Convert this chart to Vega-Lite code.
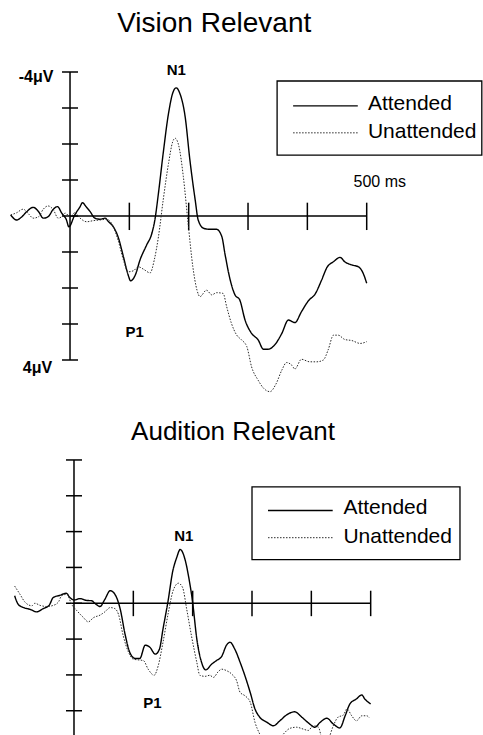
{
  "$schema": "https://vega.github.io/schema/vega-lite/v6.json",
  "padding": 0,
  "spacing": 0,
  "background": "white",
  "config": {"view": {"stroke": null}, "text": {"font": "Liberation Sans", "color": "black"}},
  "datasets": {
    "vision": [
      {"cond":"Attended","t":-100,"v":-0.03},{"cond":"Attended","t":-90,"v":0.11},{"cond":"Attended","t":-81,"v":0.02},{"cond":"Attended","t":-73,"v":-0.12},{"cond":"Attended","t":-62,"v":-0.24},{"cond":"Attended","t":-53,"v":-0.12},{"cond":"Attended","t":-45,"v":0.06},{"cond":"Attended","t":-37,"v":0.02},{"cond":"Attended","t":-28,"v":-0.19},{"cond":"Attended","t":-21,"v":-0.26},{"cond":"Attended","t":-14,"v":-0.08},{"cond":"Attended","t":-6,"v":0.11},{"cond":"Attended","t":-2,"v":0.3},{"cond":"Attended","t":8,"v":-0.03},{"cond":"Attended","t":17,"v":-0.26},{"cond":"Attended","t":21,"v":-0.37},{"cond":"Attended","t":27,"v":-0.26},{"cond":"Attended","t":34,"v":-0.12},{"cond":"Attended","t":42,"v":0.06},{"cond":"Attended","t":51,"v":0.09},{"cond":"Attended","t":59,"v":0.06},{"cond":"Attended","t":65,"v":0.16},{"cond":"Attended","t":73,"v":0.3},{"cond":"Attended","t":81,"v":0.58},{"cond":"Attended","t":90,"v":1.13},{"cond":"Attended","t":98,"v":1.64},{"cond":"Attended","t":102,"v":1.8},{"cond":"Attended","t":110,"v":1.64},{"cond":"Attended","t":118,"v":1.22},{"cond":"Attended","t":129,"v":0.81},{"cond":"Attended","t":138,"v":0.48},{"cond":"Attended","t":143,"v":0.11},{"cond":"Attended","t":149,"v":-0.63},{"cond":"Attended","t":157,"v":-1.74},{"cond":"Attended","t":166,"v":-2.85},{"cond":"Attended","t":173,"v":-3.41},{"cond":"Attended","t":179,"v":-3.56},{"cond":"Attended","t":185,"v":-3.41},{"cond":"Attended","t":194,"v":-2.76},{"cond":"Attended","t":202,"v":-1.56},{"cond":"Attended","t":211,"v":-0.44},{"cond":"Attended","t":216,"v":0.11},{"cond":"Attended","t":225,"v":0.34},{"cond":"Attended","t":236,"v":0.37},{"cond":"Attended","t":247,"v":0.37},{"cond":"Attended","t":256,"v":0.58},{"cond":"Attended","t":261,"v":1.04},{"cond":"Attended","t":270,"v":1.78},{"cond":"Attended","t":278,"v":2.19},{"cond":"Attended","t":286,"v":2.33},{"cond":"Attended","t":295,"v":2.89},{"cond":"Attended","t":306,"v":3.26},{"cond":"Attended","t":317,"v":3.44},{"cond":"Attended","t":326,"v":3.7},{"cond":"Attended","t":334,"v":3.7},{"cond":"Attended","t":345,"v":3.58},{"cond":"Attended","t":357,"v":3.26},{"cond":"Attended","t":368,"v":2.89},{"cond":"Attended","t":379,"v":2.96},{"cond":"Attended","t":390,"v":2.66},{"cond":"Attended","t":402,"v":2.35},{"cond":"Attended","t":413,"v":2.17},{"cond":"Attended","t":424,"v":1.78},{"cond":"Attended","t":433,"v":1.43},{"cond":"Attended","t":444,"v":1.27},{"cond":"Attended","t":455,"v":1.15},{"cond":"Attended","t":463,"v":1.27},{"cond":"Attended","t":475,"v":1.36},{"cond":"Attended","t":486,"v":1.41},{"cond":"Attended","t":494,"v":1.59},{"cond":"Attended","t":500,"v":1.87},
      {"cond":"Unattended","t":-100,"v":-0.03},{"cond":"Unattended","t":-90,"v":-0.09},{"cond":"Unattended","t":-79,"v":-0.19},{"cond":"Unattended","t":-70,"v":-0.06},{"cond":"Unattended","t":-62,"v":0.06},{"cond":"Unattended","t":-53,"v":0.02},{"cond":"Unattended","t":-45,"v":-0.19},{"cond":"Unattended","t":-37,"v":-0.28},{"cond":"Unattended","t":-28,"v":-0.17},{"cond":"Unattended","t":-20,"v":0.06},{"cond":"Unattended","t":-14,"v":0.02},{"cond":"Unattended","t":-8,"v":-0.08},{"cond":"Unattended","t":0,"v":0.02},{"cond":"Unattended","t":8,"v":-0.09},{"cond":"Unattended","t":17,"v":0.06},{"cond":"Unattended","t":28,"v":0.16},{"cond":"Unattended","t":39,"v":0.13},{"cond":"Unattended","t":51,"v":0.11},{"cond":"Unattended","t":62,"v":0.09},{"cond":"Unattended","t":73,"v":0.3},{"cond":"Unattended","t":81,"v":0.67},{"cond":"Unattended","t":90,"v":1.22},{"cond":"Unattended","t":98,"v":1.55},{"cond":"Unattended","t":107,"v":1.52},{"cond":"Unattended","t":115,"v":1.41},{"cond":"Unattended","t":124,"v":1.48},{"cond":"Unattended","t":135,"v":1.58},{"cond":"Unattended","t":142,"v":1.22},{"cond":"Unattended","t":149,"v":0.58},{"cond":"Unattended","t":157,"v":-0.44},{"cond":"Unattended","t":166,"v":-1.46},{"cond":"Unattended","t":173,"v":-2.06},{"cond":"Unattended","t":177,"v":-2.16},{"cond":"Unattended","t":183,"v":-1.97},{"cond":"Unattended","t":191,"v":-1.09},{"cond":"Unattended","t":199,"v":0.2},{"cond":"Unattended","t":207,"v":1.41},{"cond":"Unattended","t":214,"v":2.06},{"cond":"Unattended","t":219,"v":2.24},{"cond":"Unattended","t":230,"v":2.06},{"cond":"Unattended","t":239,"v":2.19},{"cond":"Unattended","t":247,"v":2.13},{"cond":"Unattended","t":258,"v":2.15},{"cond":"Unattended","t":264,"v":2.52},{"cond":"Unattended","t":272,"v":2.98},{"cond":"Unattended","t":281,"v":3.31},{"cond":"Unattended","t":289,"v":3.44},{"cond":"Unattended","t":298,"v":3.63},{"cond":"Unattended","t":306,"v":4.19},{"cond":"Unattended","t":317,"v":4.56},{"cond":"Unattended","t":326,"v":4.78},{"cond":"Unattended","t":337,"v":4.88},{"cond":"Unattended","t":347,"v":4.67},{"cond":"Unattended","t":357,"v":4.28},{"cond":"Unattended","t":365,"v":4.07},{"cond":"Unattended","t":374,"v":4.15},{"cond":"Unattended","t":379,"v":4.25},{"cond":"Unattended","t":390,"v":3.98},{"cond":"Unattended","t":404,"v":4.05},{"cond":"Unattended","t":416,"v":4.05},{"cond":"Unattended","t":427,"v":4.0},{"cond":"Unattended","t":435,"v":3.72},{"cond":"Unattended","t":444,"v":3.31},{"cond":"Unattended","t":452,"v":3.31},{"cond":"Unattended","t":463,"v":3.43},{"cond":"Unattended","t":475,"v":3.46},{"cond":"Unattended","t":489,"v":3.54},{"cond":"Unattended","t":500,"v":3.49}
    ],
    "audition": [
      {"cond":"Attended","t":-100,"v":-0.21},{"cond":"Attended","t":-94,"v":0.03},{"cond":"Attended","t":-85,"v":0.12},{"cond":"Attended","t":-74,"v":0.17},{"cond":"Attended","t":-63,"v":0.24},{"cond":"Attended","t":-52,"v":0.15},{"cond":"Attended","t":-42,"v":0.06},{"cond":"Attended","t":-35,"v":-0.16},{"cond":"Attended","t":-24,"v":-0.22},{"cond":"Attended","t":-13,"v":-0.28},{"cond":"Attended","t":-7,"v":-0.16},{"cond":"Attended","t":0,"v":-0.09},{"cond":"Attended","t":10,"v":-0.13},{"cond":"Attended","t":21,"v":-0.08},{"cond":"Attended","t":30,"v":-0.07},{"cond":"Attended","t":35,"v":0.0},{"cond":"Attended","t":44,"v":0.09},{"cond":"Attended","t":52,"v":-0.11},{"cond":"Attended","t":61,"v":-0.35},{"cond":"Attended","t":69,"v":-0.25},{"cond":"Attended","t":78,"v":0.17},{"cond":"Attended","t":86,"v":0.86},{"cond":"Attended","t":94,"v":1.37},{"cond":"Attended","t":103,"v":1.54},{"cond":"Attended","t":111,"v":1.54},{"cond":"Attended","t":120,"v":1.17},{"cond":"Attended","t":128,"v":1.23},{"cond":"Attended","t":137,"v":1.42},{"cond":"Attended","t":144,"v":1.28},{"cond":"Attended","t":150,"v":0.72},{"cond":"Attended","t":159,"v":-0.11},{"cond":"Attended","t":166,"v":-0.86},{"cond":"Attended","t":173,"v":-1.27},{"cond":"Attended","t":179,"v":-1.5},{"cond":"Attended","t":187,"v":-1.23},{"cond":"Attended","t":193,"v":-0.76},{"cond":"Attended","t":200,"v":-0.02},{"cond":"Attended","t":207,"v":1.0},{"cond":"Attended","t":215,"v":1.65},{"cond":"Attended","t":222,"v":1.86},{"cond":"Attended","t":232,"v":1.7},{"cond":"Attended","t":240,"v":1.6},{"cond":"Attended","t":249,"v":1.48},{"cond":"Attended","t":257,"v":1.17},{"cond":"Attended","t":263,"v":1.09},{"cond":"Attended","t":271,"v":1.28},{"cond":"Attended","t":280,"v":1.65},{"cond":"Attended","t":288,"v":2.02},{"cond":"Attended","t":297,"v":2.49},{"cond":"Attended","t":305,"v":2.95},{"cond":"Attended","t":313,"v":3.18},{"cond":"Attended","t":325,"v":3.32},{"cond":"Attended","t":336,"v":3.42},{"cond":"Attended","t":347,"v":3.28},{"cond":"Attended","t":358,"v":3.12},{"cond":"Attended","t":372,"v":3.03},{"cond":"Attended","t":384,"v":3.18},{"cond":"Attended","t":395,"v":3.34},{"cond":"Attended","t":406,"v":3.46},{"cond":"Attended","t":415,"v":3.32},{"cond":"Attended","t":426,"v":3.21},{"cond":"Attended","t":437,"v":3.37},{"cond":"Attended","t":448,"v":3.48},{"cond":"Attended","t":457,"v":3.14},{"cond":"Attended","t":465,"v":2.81},{"cond":"Attended","t":476,"v":2.67},{"cond":"Attended","t":485,"v":2.56},{"cond":"Attended","t":490,"v":2.67},{"cond":"Attended","t":500,"v":2.81},
      {"cond":"Unattended","t":-100,"v":-0.48},{"cond":"Unattended","t":-91,"v":-0.25},{"cond":"Unattended","t":-83,"v":-0.04},{"cond":"Unattended","t":-71,"v":0.07},{"cond":"Unattended","t":-66,"v":0.0},{"cond":"Unattended","t":-57,"v":0.06},{"cond":"Unattended","t":-46,"v":0.09},{"cond":"Unattended","t":-35,"v":0.06},{"cond":"Unattended","t":-26,"v":-0.04},{"cond":"Unattended","t":-21,"v":-0.21},{"cond":"Unattended","t":-12,"v":-0.25},{"cond":"Unattended","t":-4,"v":0.03},{"cond":"Unattended","t":5,"v":0.21},{"cond":"Unattended","t":16,"v":0.4},{"cond":"Unattended","t":24,"v":0.52},{"cond":"Unattended","t":33,"v":0.4},{"cond":"Unattended","t":44,"v":0.33},{"cond":"Unattended","t":52,"v":0.24},{"cond":"Unattended","t":61,"v":0.12},{"cond":"Unattended","t":69,"v":0.15},{"cond":"Unattended","t":75,"v":0.31},{"cond":"Unattended","t":83,"v":0.91},{"cond":"Unattended","t":92,"v":1.37},{"cond":"Unattended","t":100,"v":1.56},{"cond":"Unattended","t":108,"v":1.58},{"cond":"Unattended","t":117,"v":1.6},{"cond":"Unattended","t":125,"v":1.84},{"cond":"Unattended","t":135,"v":2.01},{"cond":"Unattended","t":142,"v":1.74},{"cond":"Unattended","t":150,"v":1.09},{"cond":"Unattended","t":159,"v":0.26},{"cond":"Unattended","t":167,"v":-0.35},{"cond":"Unattended","t":176,"v":-0.56},{"cond":"Unattended","t":183,"v":-0.44},{"cond":"Unattended","t":190,"v":0.17},{"cond":"Unattended","t":198,"v":0.91},{"cond":"Unattended","t":207,"v":1.65},{"cond":"Unattended","t":212,"v":2.01},{"cond":"Unattended","t":221,"v":2.04},{"cond":"Unattended","t":229,"v":2.01},{"cond":"Unattended","t":235,"v":2.07},{"cond":"Unattended","t":243,"v":1.91},{"cond":"Unattended","t":249,"v":1.84},{"cond":"Unattended","t":257,"v":1.88},{"cond":"Unattended","t":266,"v":1.98},{"cond":"Unattended","t":274,"v":2.16},{"cond":"Unattended","t":280,"v":2.49},{"cond":"Unattended","t":288,"v":2.58},{"cond":"Unattended","t":297,"v":2.76},{"cond":"Unattended","t":305,"v":3.32},{"cond":"Unattended","t":313,"v":3.65},{"cond":"Unattended","t":325,"v":3.93},{"cond":"Unattended","t":336,"v":3.97},{"cond":"Unattended","t":344,"v":3.83},{"cond":"Unattended","t":353,"v":3.65},{"cond":"Unattended","t":364,"v":3.49},{"cond":"Unattended","t":375,"v":3.46},{"cond":"Unattended","t":386,"v":3.51},{"cond":"Unattended","t":395,"v":3.55},{"cond":"Unattended","t":403,"v":3.42},{"cond":"Unattended","t":412,"v":3.46},{"cond":"Unattended","t":417,"v":3.74},{"cond":"Unattended","t":423,"v":3.97},{"cond":"Unattended","t":429,"v":3.79},{"cond":"Unattended","t":437,"v":3.42},{"cond":"Unattended","t":445,"v":3.18},{"cond":"Unattended","t":454,"v":3.12},{"cond":"Unattended","t":460,"v":2.95},{"cond":"Unattended","t":468,"v":3.14},{"cond":"Unattended","t":476,"v":3.28},{"cond":"Unattended","t":485,"v":3.14},{"cond":"Unattended","t":493,"v":3.14},{"cond":"Unattended","t":498,"v":3.2}
    ],
    "yticks": [{"v":-4},{"v":-3},{"v":-2},{"v":-1},{"v":0},{"v":1},{"v":2},{"v":3},{"v":4}],
    "xticks": [{"t":100},{"t":200},{"t":300},{"t":400},{"t":500}],
    "one": [{}]
  },
  "vconcat": [
    {
      "width": 483,
      "height": 380,
      "layer": [
        {"data": {"name": "one"}, "mark": {"type": "rule", "color": "black", "strokeWidth": 1.5},
         "encoding": {"x": {"datum": 0, "type": "quantitative", "scale": {"domain": [-118, 696], "nice": false, "zero": false}, "axis": null},
                      "y": {"datum": -4, "type": "quantitative", "scale": {"domain": [-6, 4.5556], "nice": false, "zero": false, "reverse": true}, "axis": null},
                      "y2": {"datum": 4}}},
        {"data": {"name": "yticks"}, "mark": {"type": "rule", "color": "black", "strokeWidth": 1.5},
         "encoding": {"x": {"datum": -13.5, "type": "quantitative", "scale": {"domain": [-118, 696], "nice": false, "zero": false}, "axis": null},
                      "x2": {"datum": 13.5},
                      "y": {"field": "v", "type": "quantitative", "scale": {"domain": [-6, 4.5556], "nice": false, "zero": false, "reverse": true}, "axis": null}}},
        {"data": {"name": "one"}, "mark": {"type": "rule", "color": "black", "strokeWidth": 1.5},
         "encoding": {"x": {"datum": 0, "type": "quantitative", "scale": {"domain": [-118, 696], "nice": false, "zero": false}, "axis": null},
                      "x2": {"datum": 500},
                      "y": {"datum": 0, "type": "quantitative", "scale": {"domain": [-6, 4.5556], "nice": false, "zero": false, "reverse": true}, "axis": null}}},
        {"data": {"name": "xticks"}, "mark": {"type": "rule", "color": "black", "strokeWidth": 1.5},
         "encoding": {"x": {"field": "t", "type": "quantitative", "scale": {"domain": [-118, 696], "nice": false, "zero": false}, "axis": null},
                      "y": {"datum": -0.37, "type": "quantitative", "scale": {"domain": [-6, 4.5556], "nice": false, "zero": false, "reverse": true}, "axis": null},
                      "y2": {"datum": 0.39}}},
        {"data": {"name": "vision"}, "mark": {"type": "line", "strokeJoin": "round", "interpolate": "monotone"},
         "encoding": {"x": {"field": "t", "type": "quantitative", "scale": {"domain": [-118, 696], "nice": false, "zero": false}, "axis": null},
                      "y": {"field": "v", "type": "quantitative", "scale": {"domain": [-6, 4.5556], "nice": false, "zero": false, "reverse": true}, "axis": null},
                      "strokeDash": {"field": "cond", "type": "nominal", "scale": {"domain": ["Attended", "Unattended"], "range": [[1, 0], [1.5, 1.5]]}, "legend": null},
                      "color": {"field": "cond", "type": "nominal", "scale": {"domain": ["Attended", "Unattended"], "range": ["#000000", "#2a2a2a"]}, "legend": null},
                      "strokeWidth": {"field": "cond", "type": "nominal", "scale": {"domain": ["Attended", "Unattended"], "range": [1.4, 1.0]}, "legend": null}}},
        {"data": {"name": "one"}, "mark": {"type": "rect", "fill": null, "fillOpacity": 0, "stroke": "black", "strokeWidth": 1.3},
         "encoding": {"x": {"datum": 349, "type": "quantitative", "scale": {"domain": [-118, 696], "nice": false, "zero": false}, "axis": null},
                      "x2": {"datum": 694},
                      "y": {"datum": -3.75, "type": "quantitative", "scale": {"domain": [-6, 4.5556], "nice": false, "zero": false, "reverse": true}, "axis": null},
                      "y2": {"datum": -1.69}}},
        {"data": {"values": [{"cond": "Attended"}]}, "mark": {"type": "rule"},
         "encoding": {"x": {"datum": 376, "type": "quantitative", "scale": {"domain": [-118, 696], "nice": false, "zero": false}, "axis": null},
                      "x2": {"datum": 485},
                      "y": {"datum": -3.06, "type": "quantitative", "scale": {"domain": [-6, 4.5556], "nice": false, "zero": false, "reverse": true}, "axis": null},
                      "strokeDash": {"field": "cond", "type": "nominal", "legend": null},
                      "color": {"field": "cond", "type": "nominal", "legend": null},
                      "strokeWidth": {"field": "cond", "type": "nominal", "legend": null}}},
        {"data": {"values": [{"cond": "Unattended"}]}, "mark": {"type": "rule"},
         "encoding": {"x": {"datum": 376, "type": "quantitative", "scale": {"domain": [-118, 696], "nice": false, "zero": false}, "axis": null},
                      "x2": {"datum": 485},
                      "y": {"datum": -2.31, "type": "quantitative", "scale": {"domain": [-6, 4.5556], "nice": false, "zero": false, "reverse": true}, "axis": null},
                      "strokeDash": {"field": "cond", "type": "nominal", "legend": null},
                      "color": {"field": "cond", "type": "nominal", "legend": null},
                      "strokeWidth": {"field": "cond", "type": "nominal", "legend": null}}},
        {"data": {"values": [{"cond": "Attended"}]}, "mark": {"type": "text", "align": "left", "baseline": "alphabetic", "fontSize": 21},
         "encoding": {"x": {"datum": 502, "type": "quantitative", "scale": {"domain": [-118, 696], "nice": false, "zero": false}, "axis": null},
                      "y": {"datum": -2.94, "type": "quantitative", "scale": {"domain": [-6, 4.5556], "nice": false, "zero": false, "reverse": true}, "axis": null},
                      "text": {"field": "cond"}}},
        {"data": {"values": [{"cond": "Unattended"}]}, "mark": {"type": "text", "align": "left", "baseline": "alphabetic", "fontSize": 21},
         "encoding": {"x": {"datum": 502, "type": "quantitative", "scale": {"domain": [-118, 696], "nice": false, "zero": false}, "axis": null},
                      "y": {"datum": -2.16, "type": "quantitative", "scale": {"domain": [-6, 4.5556], "nice": false, "zero": false, "reverse": true}, "axis": null},
                      "text": {"field": "cond"}}},
        {"data": {"values": [{"label": "Vision Relevant", "t": 243, "v": -5.11}]}, "mark": {"type": "text", "align": "center", "baseline": "alphabetic", "fontSize": 28},
         "encoding": {"x": {"field": "t", "type": "quantitative", "scale": {"domain": [-118, 696], "nice": false, "zero": false}, "axis": null},
                      "y": {"field": "v", "type": "quantitative", "scale": {"domain": [-6, 4.5556], "nice": false, "zero": false, "reverse": true}, "axis": null},
                      "text": {"field": "label"}}},
        {"data": {"values": [{"label": "N1", "t": 179, "v": -3.92}, {"label": "P1", "t": 109, "v": 3.35}]}, "mark": {"type": "text", "align": "center", "baseline": "alphabetic", "fontSize": 15, "fontWeight": "bold"},
         "encoding": {"x": {"field": "t", "type": "quantitative", "scale": {"domain": [-118, 696], "nice": false, "zero": false}, "axis": null},
                      "y": {"field": "v", "type": "quantitative", "scale": {"domain": [-6, 4.5556], "nice": false, "zero": false, "reverse": true}, "axis": null},
                      "text": {"field": "label"}}},
        {"data": {"values": [{"label": "-4μV", "t": -28, "v": -3.73}, {"label": "4μV", "t": -30, "v": 4.37}]}, "mark": {"type": "text", "align": "right", "baseline": "alphabetic", "fontSize": 16, "fontWeight": "bold"},
         "encoding": {"x": {"field": "t", "type": "quantitative", "scale": {"domain": [-118, 696], "nice": false, "zero": false}, "axis": null},
                      "y": {"field": "v", "type": "quantitative", "scale": {"domain": [-6, 4.5556], "nice": false, "zero": false, "reverse": true}, "axis": null},
                      "text": {"field": "label"}}},
        {"data": {"values": [{"label": "500 ms", "t": 522, "v": -0.81}]}, "mark": {"type": "text", "align": "center", "baseline": "alphabetic", "fontSize": 16},
         "encoding": {"x": {"field": "t", "type": "quantitative", "scale": {"domain": [-118, 696], "nice": false, "zero": false}, "axis": null},
                      "y": {"field": "v", "type": "quantitative", "scale": {"domain": [-6, 4.5556], "nice": false, "zero": false, "reverse": true}, "axis": null},
                      "text": {"field": "label"}}}
      ]
    },
    {
      "width": 483,
      "height": 355,
      "layer": [
        {"data": {"name": "one"}, "mark": {"type": "rule", "color": "black", "strokeWidth": 1.5},
         "encoding": {"x": {"datum": 0, "type": "quantitative", "scale": {"domain": [-124.7, 689.3], "nice": false, "zero": false}, "axis": null},
                      "y": {"datum": -4, "type": "quantitative", "scale": {"domain": [-5.869, 4.04], "nice": false, "zero": false, "reverse": true}, "axis": null},
                      "y2": {"datum": 4}}},
        {"data": {"name": "yticks"}, "mark": {"type": "rule", "color": "black", "strokeWidth": 1.5},
         "encoding": {"x": {"datum": -13.5, "type": "quantitative", "scale": {"domain": [-124.7, 689.3], "nice": false, "zero": false}, "axis": null},
                      "x2": {"datum": 13.5},
                      "y": {"field": "v", "type": "quantitative", "scale": {"domain": [-5.869, 4.04], "nice": false, "zero": false, "reverse": true}, "axis": null}}},
        {"data": {"name": "one"}, "mark": {"type": "rule", "color": "black", "strokeWidth": 1.5},
         "encoding": {"x": {"datum": 0, "type": "quantitative", "scale": {"domain": [-124.7, 689.3], "nice": false, "zero": false}, "axis": null},
                      "x2": {"datum": 500},
                      "y": {"datum": 0, "type": "quantitative", "scale": {"domain": [-5.869, 4.04], "nice": false, "zero": false, "reverse": true}, "axis": null}}},
        {"data": {"name": "xticks"}, "mark": {"type": "rule", "color": "black", "strokeWidth": 1.5},
         "encoding": {"x": {"field": "t", "type": "quantitative", "scale": {"domain": [-124.7, 689.3], "nice": false, "zero": false}, "axis": null},
                      "y": {"datum": -0.35, "type": "quantitative", "scale": {"domain": [-5.869, 4.04], "nice": false, "zero": false, "reverse": true}, "axis": null},
                      "y2": {"datum": 0.36}}},
        {"data": {"name": "audition"}, "mark": {"type": "line", "strokeJoin": "round", "interpolate": "monotone"},
         "encoding": {"x": {"field": "t", "type": "quantitative", "scale": {"domain": [-124.7, 689.3], "nice": false, "zero": false}, "axis": null},
                      "y": {"field": "v", "type": "quantitative", "scale": {"domain": [-5.869, 4.04], "nice": false, "zero": false, "reverse": true}, "axis": null},
                      "strokeDash": {"field": "cond", "type": "nominal", "scale": {"domain": ["Attended", "Unattended"], "range": [[1, 0], [1.5, 1.5]]}, "legend": null},
                      "color": {"field": "cond", "type": "nominal", "scale": {"domain": ["Attended", "Unattended"], "range": ["#000000", "#2a2a2a"]}, "legend": null},
                      "strokeWidth": {"field": "cond", "type": "nominal", "scale": {"domain": ["Attended", "Unattended"], "range": [1.4, 1.0]}, "legend": null}}},
        {"data": {"name": "one"}, "mark": {"type": "rect", "fill": null, "fillOpacity": 0, "stroke": "black", "strokeWidth": 1.3},
         "encoding": {"x": {"datum": 300, "type": "quantitative", "scale": {"domain": [-124.7, 689.3], "nice": false, "zero": false}, "axis": null},
                      "x2": {"datum": 650.5},
                      "y": {"datum": -3.25, "type": "quantitative", "scale": {"domain": [-5.869, 4.04], "nice": false, "zero": false, "reverse": true}, "axis": null},
                      "y2": {"datum": -1.22}}},
        {"data": {"values": [{"cond": "Attended"}]}, "mark": {"type": "rule"},
         "encoding": {"x": {"datum": 327, "type": "quantitative", "scale": {"domain": [-124.7, 689.3], "nice": false, "zero": false}, "axis": null},
                      "x2": {"datum": 436},
                      "y": {"datum": -2.59, "type": "quantitative", "scale": {"domain": [-5.869, 4.04], "nice": false, "zero": false, "reverse": true}, "axis": null},
                      "strokeDash": {"field": "cond", "type": "nominal", "legend": null},
                      "color": {"field": "cond", "type": "nominal", "legend": null},
                      "strokeWidth": {"field": "cond", "type": "nominal", "legend": null}}},
        {"data": {"values": [{"cond": "Unattended"}]}, "mark": {"type": "rule"},
         "encoding": {"x": {"datum": 327, "type": "quantitative", "scale": {"domain": [-124.7, 689.3], "nice": false, "zero": false}, "axis": null},
                      "x2": {"datum": 436},
                      "y": {"datum": -1.83, "type": "quantitative", "scale": {"domain": [-5.869, 4.04], "nice": false, "zero": false, "reverse": true}, "axis": null},
                      "strokeDash": {"field": "cond", "type": "nominal", "legend": null},
                      "color": {"field": "cond", "type": "nominal", "legend": null},
                      "strokeWidth": {"field": "cond", "type": "nominal", "legend": null}}},
        {"data": {"values": [{"cond": "Attended"}]}, "mark": {"type": "text", "align": "left", "baseline": "alphabetic", "fontSize": 21},
         "encoding": {"x": {"datum": 454, "type": "quantitative", "scale": {"domain": [-124.7, 689.3], "nice": false, "zero": false}, "axis": null},
                      "y": {"datum": -2.48, "type": "quantitative", "scale": {"domain": [-5.869, 4.04], "nice": false, "zero": false, "reverse": true}, "axis": null},
                      "text": {"field": "cond"}}},
        {"data": {"values": [{"cond": "Unattended"}]}, "mark": {"type": "text", "align": "left", "baseline": "alphabetic", "fontSize": 21},
         "encoding": {"x": {"datum": 454, "type": "quantitative", "scale": {"domain": [-124.7, 689.3], "nice": false, "zero": false}, "axis": null},
                      "y": {"datum": -1.67, "type": "quantitative", "scale": {"domain": [-5.869, 4.04], "nice": false, "zero": false, "reverse": true}, "axis": null},
                      "text": {"field": "cond"}}},
        {"data": {"values": [{"label": "Audition Relevant", "t": 268, "v": -4.55}]}, "mark": {"type": "text", "align": "center", "baseline": "alphabetic", "fontSize": 26},
         "encoding": {"x": {"field": "t", "type": "quantitative", "scale": {"domain": [-124.7, 689.3], "nice": false, "zero": false}, "axis": null},
                      "y": {"field": "v", "type": "quantitative", "scale": {"domain": [-5.869, 4.04], "nice": false, "zero": false, "reverse": true}, "axis": null},
                      "text": {"field": "label"}}},
        {"data": {"values": [{"label": "N1", "t": 185, "v": -1.74}, {"label": "P1", "t": 132, "v": 2.93}]}, "mark": {"type": "text", "align": "center", "baseline": "alphabetic", "fontSize": 15, "fontWeight": "bold"},
         "encoding": {"x": {"field": "t", "type": "quantitative", "scale": {"domain": [-124.7, 689.3], "nice": false, "zero": false}, "axis": null},
                      "y": {"field": "v", "type": "quantitative", "scale": {"domain": [-5.869, 4.04], "nice": false, "zero": false, "reverse": true}, "axis": null},
                      "text": {"field": "label"}}}
      ]
    }
  ]
}
